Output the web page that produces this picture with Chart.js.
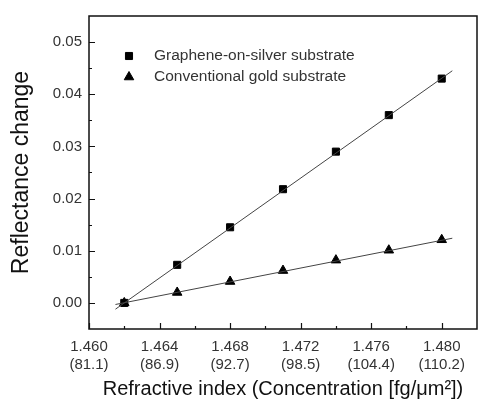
<!DOCTYPE html>
<html>
<head>
<meta charset="utf-8">
<script src="https://cdn.jsdelivr.net/npm/chart.js@4.4.1/dist/chart.umd.min.js"></script>
<style>
  html, body { margin: 0; padding: 0; background: #fff; }
  #wrap { width: 478px; height: 401px; }
</style>
</head>
<body>
<div id="wrap"><canvas id="chart"></canvas></div>
<script>
// measured points
const refractiveIndex = [1.462, 1.465, 1.468, 1.471, 1.474, 1.477, 1.480];
const grapheneSilver = [0.0000, 0.0073, 0.0145, 0.0218, 0.0290, 0.0360, 0.0430];
const goldConventional = [0.0000, 0.0020, 0.0041, 0.0062, 0.0082, 0.0101, 0.0121];

// linear fit end points
const fitRange = [1.4615, 1.4806];
const grapheneFit = [-0.0012, 0.0445];
const goldFit = [-0.0003, 0.0124];

// axes
const xTicks = [1.460, 1.464, 1.468, 1.472, 1.476, 1.480];
const concentrationLabels = ['81.1', '86.9', '92.7', '98.5', '104.4', '110.2'];
const xMinorTicks = [1.462, 1.466, 1.470, 1.474, 1.478];
const yTicks = [0.00, 0.01, 0.02, 0.03, 0.04, 0.05];
const yMinorTicks = [0.005, 0.015, 0.025, 0.035, 0.045];

const FONT = '"Liberation Sans", Arial, sans-serif';

const toPoints = (xs, ys) => xs.map((x, i) => ({x: x, y: ys[i]}));

const frame = {
  id: 'frame',
  afterDraw(chart) {
    const {ctx, chartArea: a, scales: {x, y}} = chart;
    ctx.save();
    ctx.strokeStyle = '#111';
    ctx.lineWidth = 1.5;
    ctx.strokeRect(a.left, a.top, a.right - a.left, a.bottom - a.top);
    ctx.lineWidth = 1.2;
    ctx.beginPath();
    xTicks.forEach(v => {
      const px = Math.round(x.getPixelForValue(v)) + 0.5;
      ctx.moveTo(px, a.bottom); ctx.lineTo(px, a.bottom - 6);
    });
    xMinorTicks.forEach(v => {
      const px = Math.round(x.getPixelForValue(v)) + 0.5;
      ctx.moveTo(px, a.bottom); ctx.lineTo(px, a.bottom - 3);
    });
    yTicks.forEach(v => {
      const py = Math.round(y.getPixelForValue(v)) + 0.5;
      ctx.moveTo(a.left, py); ctx.lineTo(a.left + 6, py);
    });
    yMinorTicks.forEach(v => {
      const py = Math.round(y.getPixelForValue(v)) + 0.5;
      ctx.moveTo(a.left, py); ctx.lineTo(a.left + 3, py);
    });
    ctx.stroke();
    ctx.restore();
  }
};

const legendBox = {
  id: 'legendBox',
  afterDatasetsDraw(chart) {
    const {ctx, chartArea: a} = chart;
    const entries = chart.data.datasets.filter(d => !d.isFit);
    ctx.save();
    entries.forEach((ds, i) => {
      const yy = a.top + 40 + i * 21;
      ctx.fillStyle = '#000';
      ctx.strokeStyle = '#000';
      Chart.helpers.drawPoint(ctx, {pointStyle: ds.pointStyle, radius: ds.pointRadius, borderWidth: 1, rotation: 0}, a.left + 40, yy);
      ctx.fillStyle = '#333';
      ctx.font = '15.5px ' + FONT;
      ctx.textBaseline = 'middle';
      ctx.textAlign = 'left';
      ctx.fillText(ds.label, a.left + 65, yy);
    });
    ctx.restore();
  }
};

new Chart(document.getElementById('chart'), {
  type: 'scatter',
  data: {
    datasets: [
      {
        label: 'Graphene-on-silver substrate fit',
        isFit: true,
        data: toPoints(fitRange, grapheneFit),
        showLine: true,
        borderColor: '#444',
        borderWidth: 1,
        pointRadius: 0
      },
      {
        label: 'Conventional gold substrate fit',
        isFit: true,
        data: toPoints(fitRange, goldFit),
        showLine: true,
        borderColor: '#444',
        borderWidth: 1,
        pointRadius: 0
      },
      {
        label: 'Graphene-on-silver substrate',
        data: toPoints(refractiveIndex, grapheneSilver),
        pointStyle: 'rect',
        pointRadius: 5,
        backgroundColor: '#000',
        borderColor: '#000',
        borderWidth: 1
      },
      {
        label: 'Conventional gold substrate',
        data: toPoints(refractiveIndex, goldConventional),
        pointStyle: 'triangle',
        pointRadius: 5.5,
        backgroundColor: '#000',
        borderColor: '#000',
        borderWidth: 1
      }
    ]
  },
  options: {
    responsive: true,
    maintainAspectRatio: false,
    animation: false,
    events: [],
    layout: { autoPadding: false, padding: { top: 12, right: 1, left: 0, bottom: 0 } },
    plugins: {
      legend: { display: false },
      tooltip: { enabled: false }
    },
    scales: {
      x: {
        type: 'linear',
        min: 1.460,
        max: 1.482,
        afterBuildTicks: (scale) => { scale.ticks = xTicks.map(v => ({value: v})); },
        afterFit: (scale) => {
          scale.height = 72;
          scale.paddingRight = 0;
          scale.paddingLeft = 0;
        },
        grid: { display: false, drawTicks: false },
        border: { display: false },
        ticks: {
          color: '#333',
          padding: 9,
          maxRotation: 0,
          font: { family: FONT, size: 15, lineHeight: 1.2 },
          callback: (value, index) => [value.toFixed(3), '(' + concentrationLabels[index] + ')']
        },
        title: {
          display: true,
          text: 'Refractive index (Concentration [fg/\u03bcm\u00b2])',
          color: '#111',
          padding: { top: 2.4, bottom: 0 },
          font: { family: FONT, size: 20 }
        }
      },
      y: {
        type: 'linear',
        min: -0.005,
        max: 0.055,
        afterBuildTicks: (scale) => { scale.ticks = yTicks.map(v => ({value: v})); },
        afterFit: (scale) => { scale.width = 89; },
        grid: { display: false, drawTicks: false },
        border: { display: false },
        ticks: {
          color: '#333',
          padding: 7,
          font: { family: FONT, size: 15 },
          callback: (value) => value.toFixed(2)
        },
        title: {
          display: true,
          text: 'Reflectance change',
          color: '#111',
          padding: { top: 8, bottom: 17 },
          font: { family: FONT, size: 23 }
        }
      }
    }
  },
  plugins: [frame, legendBox]
});
</script>
</body>
</html>
